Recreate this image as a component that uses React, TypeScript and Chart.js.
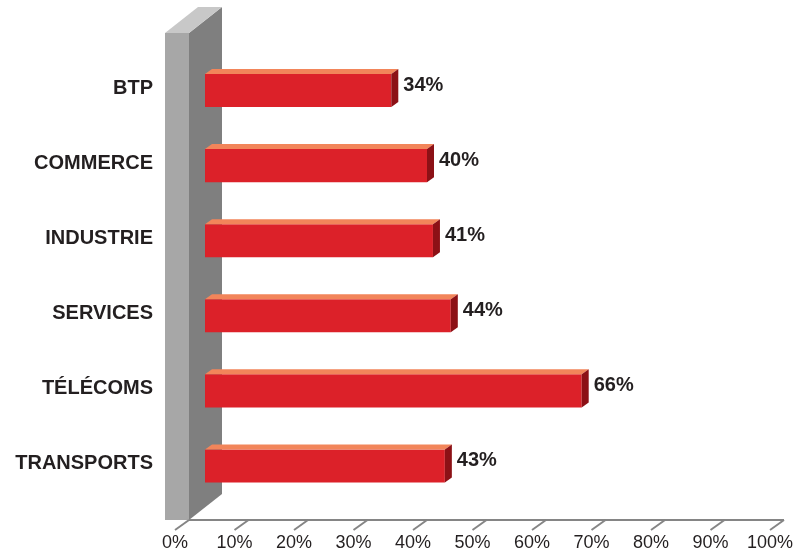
import React, { useEffect, useRef } from "react";
import { Chart, registerables } from "chart.js";

Chart.register(...registerables);

const categories = ["BTP", "COMMERCE", "INDUSTRIE", "SERVICES", "TÉLÉCOMS", "TRANSPORTS"];
const values = [34, 40, 41, 44, 66, 43];
const xTickValues = [0, 10, 20, 30, 40, 50, 60, 70, 80, 90, 100];

const FONT = "'Liberation Sans', Arial, Helvetica, sans-serif";
const TEXT = "#231f20";
const FRONT = "#dc2129";
const TOP = "#f2855a";
const SIDE = "#8c1116";
const WALL_FRONT = "#a7a7a7";
const WALL_SIDE = "#7f7f7f";
const WALL_TOP = "#c8c8c8";
const AXIS = "#858585";

const BAR_DX = 7;
const BAR_DY = -5;
const WALL_W = 24;
const WALL_DX = 33;
const WALL_DY = -26;

const threeD = {
  id: "threeD",
  beforeDatasetsDraw(chart: any) {
    const { ctx, chartArea, scales } = chart;
    const x = scales.x;
    const left = x.getPixelForValue(0);
    const right = x.getPixelForValue(100);
    const floorY = chartArea.bottom + 16.5;
    const topY = chartArea.top - 20;
    ctx.save();
    ctx.fillStyle = WALL_FRONT;
    ctx.fillRect(left - WALL_W, topY, WALL_W, floorY - topY);
    ctx.fillStyle = WALL_SIDE;
    ctx.beginPath();
    ctx.moveTo(left, topY);
    ctx.lineTo(left + WALL_DX, topY + WALL_DY);
    ctx.lineTo(left + WALL_DX, floorY + WALL_DY);
    ctx.lineTo(left, floorY);
    ctx.closePath();
    ctx.fill();
    ctx.fillStyle = WALL_TOP;
    ctx.beginPath();
    ctx.moveTo(left - WALL_W, topY);
    ctx.lineTo(left, topY);
    ctx.lineTo(left + WALL_DX, topY + WALL_DY);
    ctx.lineTo(left - WALL_W + WALL_DX, topY + WALL_DY);
    ctx.closePath();
    ctx.fill();
    ctx.strokeStyle = AXIS;
    ctx.lineWidth = 2;
    ctx.beginPath();
    ctx.moveTo(left, floorY);
    ctx.lineTo(right, floorY);
    ctx.stroke();
    for (const v of xTickValues) {
      const px = x.getPixelForValue(v);
      ctx.beginPath();
      ctx.moveTo(px, floorY);
      ctx.lineTo(px - 14, floorY + 10);
      ctx.stroke();
    }
    ctx.restore();
  },
  afterDatasetsDraw(chart: any) {
    const { ctx } = chart;
    const meta = chart.getDatasetMeta(0);
    ctx.save();
    meta.data.forEach((bar: any, i: number) => {
      const { x, y, base, height } = bar.getProps(["x", "y", "base", "height"], true);
      const top = y - height / 2;
      const bottom = y + height / 2;
      ctx.fillStyle = TOP;
      ctx.beginPath();
      ctx.moveTo(base, top);
      ctx.lineTo(x, top);
      ctx.lineTo(x + BAR_DX, top + BAR_DY);
      ctx.lineTo(base + BAR_DX, top + BAR_DY);
      ctx.closePath();
      ctx.fill();
      ctx.fillStyle = SIDE;
      ctx.beginPath();
      ctx.moveTo(x, top);
      ctx.lineTo(x + BAR_DX, top + BAR_DY);
      ctx.lineTo(x + BAR_DX, bottom + BAR_DY);
      ctx.lineTo(x, bottom);
      ctx.closePath();
      ctx.fill();
      ctx.fillStyle = TEXT;
      ctx.font = `bold 20px ${FONT}`;
      ctx.textAlign = "left";
      ctx.textBaseline = "middle";
      ctx.fillText(`${values[i]}%`, x + BAR_DX + 5, y - 5);
    });
    ctx.restore();
  },
};

export default function App() {
  const ref = useRef<HTMLCanvasElement>(null);
  useEffect(() => {
    if (!ref.current) return;
    const chart = new Chart(ref.current, {
      type: "bar",
      data: {
        labels: categories,
        datasets: [
          {
            data: values,
            base: 2.69,
            backgroundColor: FRONT,
            borderWidth: 0,
            barPercentage: 0.44,
            categoryPercentage: 1,
          } as any,
        ],
      },
      options: {
        indexAxis: "y",
        animation: false,
        responsive: false,
        maintainAspectRatio: false,
        layout: { padding: { top: 53, right: 13, left: 0, bottom: 0 } },
        plugins: { legend: { display: false }, tooltip: { enabled: false } },
        scales: {
          x: {
            min: 0,
            max: 100,
            afterFit: (s: any) => {
              s.height = 50.5;
              s.paddingLeft = 0;
              s.paddingRight = 0;
            },
            afterBuildTicks: (s: any) => {
              s.ticks = xTickValues.map((v) => ({ value: v }));
            },
            grid: { display: false, drawTicks: false },
            border: { display: false },
            ticks: {
              padding: 29,
              labelOffset: -14,
              color: TEXT,
              font: { family: FONT, size: 18 },
              callback: (v: any) => `${v}%`,
              maxRotation: 0,
              autoSkip: false,
            },
          },
          y: {
            afterFit: (s: any) => {
              s.width = 189;
              s.paddingTop = 0;
              s.paddingBottom = 0;
            },
            grid: { display: false, drawTicks: false },
            border: { display: false },
            ticks: {
              padding: 36,
              labelOffset: -2,
              color: TEXT,
              font: { family: FONT, size: 20, weight: "bold" },
            },
          },
        },
      },
      plugins: [threeD],
    });
    return () => chart.destroy();
  }, []);
  return (
    <div style={{ position: "fixed", left: 0, top: 0, width: 797, height: 554, background: "#fff" }}>
      <canvas ref={ref} width={797} height={554} style={{ width: 797, height: 554 }} />
    </div>
  );
}
